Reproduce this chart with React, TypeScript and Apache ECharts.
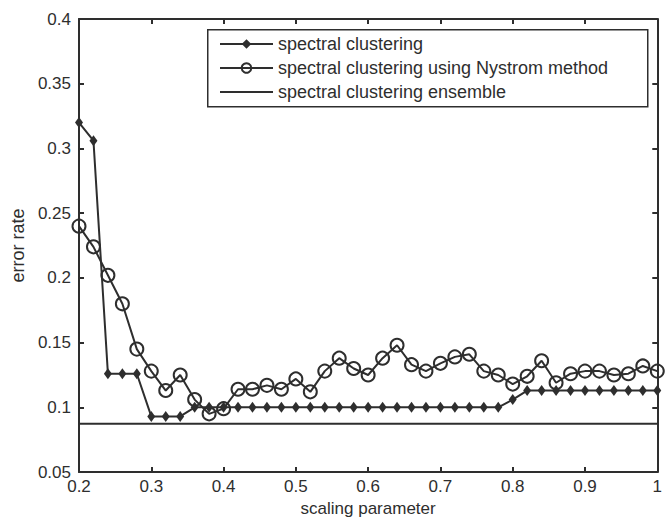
import React, { useEffect, useRef } from "react";
import * as echarts from "echarts";

const xValues = [
  0.2, 0.22, 0.24, 0.26, 0.28, 0.3, 0.32, 0.34, 0.36, 0.38, 0.4, 0.42, 0.44, 0.46,
  0.48, 0.5, 0.52, 0.54, 0.56, 0.58, 0.6, 0.62, 0.64, 0.66, 0.68, 0.7, 0.72, 0.74,
  0.76, 0.78, 0.8, 0.82, 0.84, 0.86, 0.88, 0.9, 0.92, 0.94, 0.96, 0.98, 1.0,
];

const spectral = [
  0.32, 0.306, 0.126, 0.126, 0.126, 0.093, 0.093, 0.093, 0.1, 0.1, 0.1, 0.1, 0.1, 0.1,
  0.1, 0.1, 0.1, 0.1, 0.1, 0.1, 0.1, 0.1, 0.1, 0.1, 0.1, 0.1, 0.1, 0.1,
  0.1, 0.1, 0.106, 0.113, 0.113, 0.113, 0.113, 0.113, 0.113, 0.113, 0.113, 0.113, 0.113,
];

const nystrom = [
  0.24, 0.224, 0.202, 0.18, 0.145, 0.128, 0.113, 0.125, 0.106, 0.095, 0.099, 0.114, 0.114, 0.117,
  0.114, 0.122, 0.112, 0.128, 0.138, 0.13, 0.125, 0.138, 0.148, 0.133, 0.128, 0.134, 0.139, 0.141,
  0.128, 0.125, 0.118, 0.124, 0.136, 0.119, 0.126, 0.128, 0.128, 0.125, 0.126, 0.132, 0.128,
];

const ensembleX = [0.2, 1.0];
const ensembleValue = 0.0873;

const seriesNames = [
  "spectral clustering",
  "spectral clustering using Nystrom method",
  "spectral clustering ensemble",
];

const xAxisName = "scaling parameter";
const yAxisName = "error rate";

const FONT = "'Liberation Sans', Arial, Helvetica, sans-serif";
const INK = "#2e2e2e";

const fmt = (v: number) => String(parseFloat(v.toFixed(2)));

export default function App() {
  const ref = useRef<HTMLDivElement>(null);
  useEffect(() => {
    if (!ref.current) return;
    const chart = echarts.init(ref.current, undefined, { renderer: "svg" });
    const axisCommon = {
      axisLine: { show: true, onZero: false, lineStyle: { color: INK, width: 2 } },
      axisTick: { show: true, inside: true, length: 5, lineStyle: { color: INK, width: 2 } },
      splitLine: { show: false },
    };
    chart.setOption({
      animation: false,
      backgroundColor: "#ffffff",
      textStyle: { fontFamily: FONT, color: INK },
      grid: { left: 79, right: 6, top: 19, bottom: 45 },
      graphic: [
        {
          type: "rect",
          left: 207,
          top: 29,
          z: 5,
          shape: { width: 440, height: 77 },
          style: { fill: "#ffffff", stroke: INK, lineWidth: 1.5 },
        },
      ],
      legend: {
        show: true,
        orient: "vertical",
        left: 219,
        top: 35,
        padding: 0,
        itemGap: 6,
        itemWidth: 53,
        itemHeight: 12,
        z: 10,
        data: [
          { name: seriesNames[0] },
          { name: seriesNames[1] },
          { name: seriesNames[2], itemStyle: { color: "rgba(0,0,0,0)", borderColor: "rgba(0,0,0,0)", borderWidth: 0 } },
        ],
        textStyle: { fontFamily: FONT, fontSize: 18, color: INK },
      },
      xAxis: [
        {
          type: "value",
          min: 0.2,
          max: 1,
          interval: 0.1,
          position: "bottom",
          name: xAxisName,
          nameLocation: "middle",
          nameGap: 23,
          nameTextStyle: { fontFamily: FONT, fontSize: 17, color: INK },
          axisLabel: { fontFamily: FONT, fontSize: 17, color: INK, margin: 6, formatter: fmt },
          ...axisCommon,
        },
        {
          type: "value",
          min: 0.2,
          max: 1,
          interval: 0.1,
          position: "top",
          axisLabel: { show: false },
          ...axisCommon,
        },
      ],
      yAxis: [
        {
          type: "value",
          min: 0.05,
          max: 0.4,
          interval: 0.05,
          position: "left",
          name: yAxisName,
          nameLocation: "middle",
          nameGap: 51,
          nameTextStyle: { fontFamily: FONT, fontSize: 18, color: INK },
          axisLabel: { fontFamily: FONT, fontSize: 17, color: INK, margin: 8, formatter: fmt },
          ...axisCommon,
        },
        {
          type: "value",
          min: 0.05,
          max: 0.4,
          interval: 0.05,
          position: "right",
          axisLabel: { show: false },
          ...axisCommon,
        },
      ],
      series: [
        {
          name: seriesNames[0],
          type: "line",
          data: xValues.map((x, i) => [x, spectral[i]]),
          symbol: "diamond",
          symbolSize: [8, 11],
          lineStyle: { color: INK, width: 2 },
          itemStyle: { color: INK },
          z: 3,
        },
        {
          name: seriesNames[1],
          type: "line",
          data: xValues.map((x, i) => [x, nystrom[i]]),
          symbol: "circle",
          symbolSize: 13,
          lineStyle: { color: INK, width: 2 },
          itemStyle: { color: "rgba(0,0,0,0)", borderColor: INK, borderWidth: 2 },
          z: 2,
        },
        {
          name: seriesNames[2],
          type: "line",
          data: ensembleX.map((x) => [x, ensembleValue]),
          symbol: "none",
          lineStyle: { color: INK, width: 2 },
          itemStyle: { color: INK },
          z: 2,
        },
      ],
    });
    return () => chart.dispose();
  }, []);
  return <div ref={ref} style={{ width: 665, height: 522, position: "absolute", left: 0, top: 0 }} />;
}
